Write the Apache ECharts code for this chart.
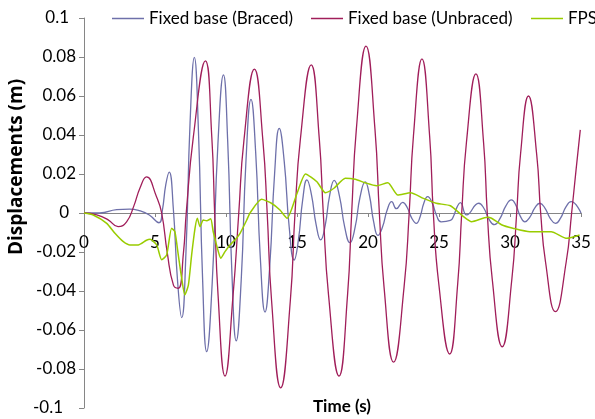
<!DOCTYPE html>
<html>
<head>
<meta charset="utf-8">
<script src="https://cdn.jsdelivr.net/npm/echarts@6/dist/echarts.min.js"></script>
<style>
  html, body { margin: 0; padding: 0; background: #ffffff; }
  #chart { width: 595px; height: 419px; }
</style>
</head>
<body>
<div id="chart"></div>
<script>
// ---- data ----
const seriesNames = ['Fixed base (Braced)', 'Fixed base (Unbraced)', 'FPS'];
const xTicks = [0, 5, 10, 15, 20, 25, 30, 35];
const yTicks = [-0.1, -0.08, -0.06, -0.04, -0.02, 0, 0.02, 0.04, 0.06, 0.08, 0.1];

const braced_t = [0,1.1,2.3,3.2,3.9,4.6,5.28,5.52,5.76,6.0,
  6.29,6.59,6.88,7.18,7.47,7.77,8.06,8.35,8.64,9.03,
  9.43,9.82,10.12,10.42,10.72,11.07,11.41,11.76,12.09,12.42,
  12.75,13.08,13.42,13.75,14.1,14.45,14.8,15.1,15.4,15.7,
  16.02,16.35,16.67,16.99,17.3,17.62,17.99,18.36,18.73,19.09,
  19.44,19.8,20.1,20.4,20.7,21.02,21.35,21.67,22.0,22.44,
  22.76,23.08,23.4,23.67,23.93,24.2,24.52,24.83,25.15,25.8,
  26.03,26.27,26.5,26.95,27.8,28.17,28.53,28.9,29.3,29.7,
  30.1,30.42,30.73,31.05,31.4,31.75,32.1,32.47,32.83,33.2,
  33.57,33.93,34.3,35.0];
const braced_v = [0,0,0.0017,0.002,0.0012,-0.001,-0.005,0.0015,0.0145,0.021,
  0.0023,-0.035,-0.0537,-0.0203,0.0464,0.0798,0.0421,-0.0334,-0.0711,-0.0356,
  0.0353,0.0708,0.0367,-0.0315,-0.0656,-0.0346,0.0273,0.0583,0.031,-0.0235,
  -0.0508,-0.0273,0.0199,0.0434,0.0265,-0.0072,-0.0241,-0.0138,0.0067,0.017,
  0.0093,-0.0061,-0.0138,-0.0062,0.0091,0.0167,0.0087,-0.0072,-0.0152,-0.0074,
  0.0082,0.016,0.0091,-0.0046,-0.0115,-0.0072,0.0015,0.0058,0.0022,0.0055,
  0.0028,-0.0026,-0.0053,-0.0019,0.005,0.0084,0.0052,-0.0013,-0.0045,-0.0038,
  -0.0015,0.003,0.0053,-0.001,0.005,0.0023,-0.0033,-0.006,-0.0028,0.0035,
  0.0067,0.0039,-0.0017,-0.0045,-0.0021,0.0026,0.005,0.0024,-0.0027,-0.0053,
  -0.0025,0.003,0.0058,0];

const unbraced_t = [0,0.9,1.7,2.4,3.0,3.5,3.95,4.4,5.1,5.47,
  5.87,6.3,6.64,7.0,7.2,7.7,8.55,9.0,9.2,9.44,
  9.93,10.5,10.9,11.26,12.0,12.6,12.9,13.21,13.85,14.53,
  14.86,15.24,16.0,16.57,16.85,17.22,17.96,18.56,18.85,19.18,
  19.86,20.49,20.8,21.13,21.8,22.54,22.9,23.2,23.8,24.34,
  24.6,24.98,25.75,26.32,26.6,26.93,27.6,28.14,28.4,28.75,
  29.45,30.13,30.47,30.74,31.3,31.88,32.16,32.5,33.2,33.96,
  34.34,34.65,34.95];
const unbraced_v = [0,-0.001,-0.0035,-0.007,-0.0045,0.0034,0.013,0.0185,0.0085,0,
  -0.0207,-0.037,-0.0386,-0.0207,0,0.039,0.078,0.039,0,-0.042,
  -0.0836,-0.042,0,0.037,0.0738,0.037,0,-0.045,-0.0897,-0.045,
  0,0.038,0.076,0.038,0,-0.042,-0.0836,-0.042,0,0.043,
  0.0856,0.043,0,-0.038,-0.0765,-0.038,0,0.0395,0.079,0.0395,
  0,-0.036,-0.0723,-0.036,0,0.036,0.0713,0.036,0,-0.034,
  -0.0686,-0.034,0,0.030,0.060,0.030,0,-0.025,-0.0506,-0.025,
  0,0.022,0.0426];

const fps_t = [0,0.65,1.6,2.18,2.77,3.24,3.82,4.4,4.65,5.12,
  5.47,5.82,6.17,6.4,6.64,6.88,7.1,7.35,7.58,7.82,
  7.98,8.17,8.4,8.64,8.92,9.1,9.46,9.63,9.93,10.28,
  10.63,10.99,11.46,11.69,12.5,13.2,13.8,14.3,15.0,15.6,
  16.4,17.0,17.6,18.4,19.1,19.8,20.6,21.4,22.1,23.0,
  23.9,24.8,25.8,26.7,27.3,28.4,28.7,29.4,30.2,31.4,
  32.9,34.0,34.9];
const fps_v = [0,-0.001,-0.0053,-0.0104,-0.0147,-0.0164,-0.0164,-0.014,-0.0135,-0.0164,
  -0.024,-0.0215,-0.0078,-0.0096,-0.0215,-0.0335,-0.042,-0.037,-0.0215,-0.0078,
  -0.0027,-0.007,-0.0036,-0.004,-0.003,-0.0096,-0.0198,-0.0232,-0.0198,-0.0164,
  -0.0138,-0.0104,-0.0036,0,0.007,0.005,0.0015,-0.0027,0.010,0.020,
  0.016,0.0104,0.0127,0.0178,0.0173,0.0155,0.014,0.0155,0.0092,0.0104,
  0.0075,0.005,0.0037,-0.0017,-0.0045,-0.0022,-0.0027,-0.006,-0.0078,-0.0096,
  -0.0096,-0.013,-0.0113];

// ---- chart ----
const FONT = 'Lato, "Open Sans", sans-serif';
const colors = ['#6E70AA', '#A01E5A', '#99CC00'];
const zip = (t, v) => t.map((x, i) => [x, v[i]]);

const GRID_TOP = 18, GRID_BOTTOM = 11, CHART_H = 419;
const plotH = CHART_H - GRID_TOP - GRID_BOTTOM;
// distance from the bottom edge of the plot up to the y = 0 line
const zeroOffset = plotH * (0 - yTicks[0]) / (yTicks[yTicks.length - 1] - yTicks[0]);

const chart = echarts.init(document.getElementById('chart'), null, { renderer: 'canvas' });

function legendAt(name, left) {
  return {
    data: [name], left: left, top: 10, orient: 'horizontal', padding: 0,
    icon: 'rect', itemWidth: 32, itemHeight: 1.5, itemGap: 0,
    textStyle: { fontFamily: FONT, fontSize: 17, color: '#000' },
    selectedMode: false
  };
}

const labelText = { fontFamily: FONT, fontSize: 17, color: '#000' };

chart.setOption({
  animation: false,
  backgroundColor: '#ffffff',
  color: colors,
  grid: { left: 84, right: 14, top: GRID_TOP, bottom: GRID_BOTTOM, containLabel: false, outerBoundsMode: 'none' },
  legend: [legendAt(seriesNames[0], 112), legendAt(seriesNames[1], 311), legendAt(seriesNames[2], 531)],
  xAxis: {
    type: 'value', min: xTicks[0], max: xTicks[xTicks.length - 1], interval: 5,
    position: 'bottom', offset: -zeroOffset,
    axisLine: { onZero: false, lineStyle: { color: '#868686', width: 1 } },
    axisTick: { show: true, inside: false, length: 4, lineStyle: { color: '#868686' } },
    axisLabel: { margin: 21, fontFamily: FONT, fontSize: 17, color: '#000' },
    splitLine: { show: false }
  },
  yAxis: {
    type: 'value', min: yTicks[0], max: yTicks[yTicks.length - 1], interval: 0.02,
    axisLine: { show: true, onZero: false, lineStyle: { color: '#868686', width: 1 } },
    axisTick: { show: true, inside: false, length: 5, lineStyle: { color: '#868686' } },
    axisLabel: {
      margin: 8, fontFamily: FONT, fontSize: 17, color: '#000',
      formatter: v => {
        const s = String(parseFloat(v.toFixed(2)));
        if (s === '0.1' || s === '0') return '{a|' + s + '}';
        if (s === '-0.1') return '{b|' + s + '}';
        return s;
      },
      rich: {
        a: Object.assign({ padding: [0, 7, 0, 0] }, labelText),
        b: Object.assign({ padding: [0, 13, 0, 0] }, labelText)
      }
    },
    splitLine: { show: false }
  },
  graphic: [
    { type: 'text', x: 17, y: 167, rotation: Math.PI / 2,
      style: { text: 'Displacements (m)', fontFamily: '"Open Sans", Lato, sans-serif', fontSize: 19, fontWeight: 'bold',
               fill: '#000', textAlign: 'center', textVerticalAlign: 'middle' } },
    { type: 'text', x: 342, y: 407,
      style: { text: 'Time (s)', fontFamily: FONT, fontSize: 17, fontWeight: 'bold',
               fill: '#000', textAlign: 'center', textVerticalAlign: 'middle' } }
  ],
  series: [
    { name: seriesNames[0], type: 'line', data: zip(braced_t, braced_v), symbol: 'none',
      smooth: 0.5, lineStyle: { width: 1.3, color: colors[0] }, z: 2 },
    { name: seriesNames[1], type: 'line', data: zip(unbraced_t, unbraced_v), symbol: 'none',
      smooth: 0.5, lineStyle: { width: 1.3, color: colors[1] }, z: 3 },
    { name: seriesNames[2], type: 'line', data: zip(fps_t, fps_v), symbol: 'none',
      smooth: 0.2, lineStyle: { width: 1.5, color: colors[2] }, z: 4 }
  ]
});
</script>
</body>
</html>
